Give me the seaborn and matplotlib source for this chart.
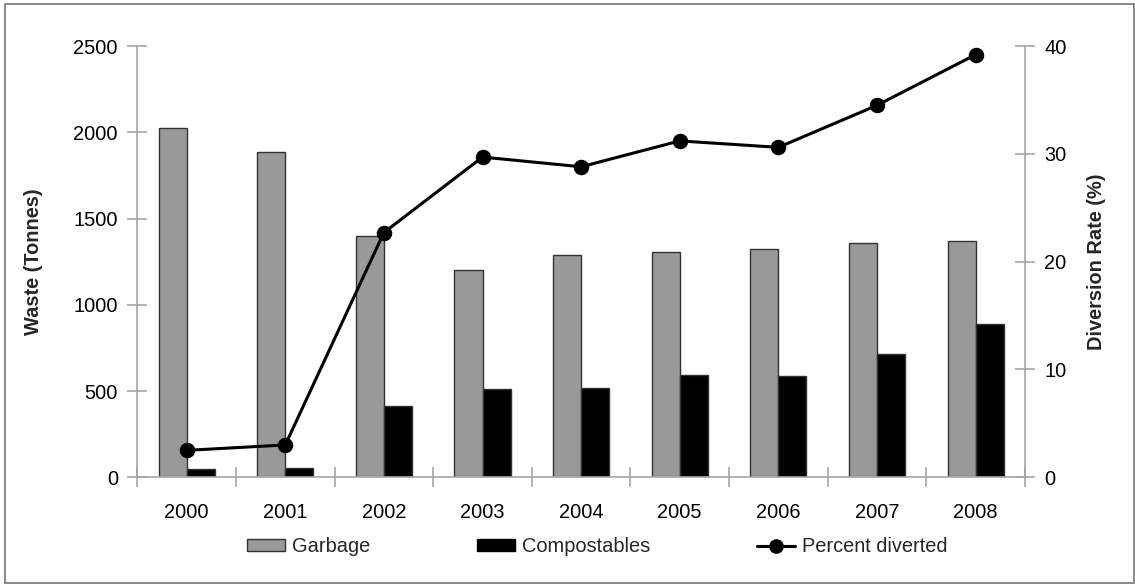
import numpy as np
import pandas as pd
import matplotlib
matplotlib.use("Agg")
import matplotlib.pyplot as plt
from matplotlib.patches import Patch, Rectangle
from matplotlib.lines import Line2D
import seaborn as sns

# Annual waste tonnage and diversion rate
years = ["2000", "2001", "2002", "2003", "2004", "2005", "2006", "2007", "2008"]
garbage = [2027, 1885, 1397, 1202, 1291, 1306, 1324, 1357, 1372]
compostables = [48, 56, 415, 511, 517, 592, 587, 714, 888]
percent_diverted = [2.5, 3.0, 22.7, 29.7, 28.8, 31.2, 30.6, 34.5, 39.2]

left_ticks = [0, 500, 1000, 1500, 2000, 2500]
right_ticks = [0, 10, 20, 30, 40]

sns.set_theme(style="white")
plt.rcParams["font.family"] = ["Liberation Sans", "DejaVu Sans"]

FS = 14.4
AXIS_GREY = "#A6A6A6"
BAR_GREY = "#999999"

waste = pd.DataFrame({
    "Year": years * 2,
    "Tonnes": garbage + compostables,
    "Type": ["Garbage"] * len(years) + ["Compostables"] * len(years),
})
rate = pd.DataFrame({"Year": years, "Rate": percent_diverted})

fig = plt.figure(figsize=(11.35, 5.84), dpi=100)
ax = fig.add_axes([0.121, 0.1827, 0.782, 0.7385])

sns.barplot(
    data=waste, x="Year", y="Tonnes", hue="Type", ax=ax,
    palette={"Garbage": BAR_GREY, "Compostables": "black"},
    width=0.568, gap=0, edgecolor="#333333", linewidth=1.0,
    errorbar=None, legend=False, zorder=2,
)

ax2 = ax.twinx()
sns.pointplot(
    data=rate, x="Year", y="Rate", ax=ax2, color="black",
    markers="o", markersize=9.5, linewidth=2.2, errorbar=None,
)

n = len(years)
ax.set_xlim(-0.5, n - 0.5)
ax2.set_xlim(-0.5, n - 0.5)
ax.set_ylim(0, 2500)
ax2.set_ylim(0, 40)
ax.set_yticks(left_ticks)
ax2.set_yticks(right_ticks)

# Year labels at category centres, tick marks on category boundaries
centres = np.arange(n)
ax.set_xticks(centres, years)
ax.set_xticks(np.arange(n + 1) - 0.5, minor=True)
ax.tick_params(axis="x", which="major", length=0, pad=18.5, labelsize=FS, colors="black")
ax.tick_params(axis="x", which="minor", length=15, width=1.2, direction="inout",
               color=AXIS_GREY, bottom=True)
ax.tick_params(axis="y", length=15, width=1.2, direction="inout", color=AXIS_GREY,
               pad=6.5, labelsize=FS, labelcolor="black", left=True)
ax2.tick_params(axis="y", length=15, width=1.2, direction="inout", color=AXIS_GREY,
                pad=6.5, labelsize=FS, labelcolor="black", right=True)
ax2.tick_params(axis="x", length=0)

for a in (ax, ax2):
    a.set_xlabel("")
    a.grid(False)
    a.spines["top"].set_visible(False)
    for side in ("left", "right", "bottom"):
        a.spines[side].set_color(AXIS_GREY)
        a.spines[side].set_linewidth(1.2)
ax.spines["right"].set_visible(False)
ax2.spines["left"].set_visible(False)
ax2.spines["bottom"].set_visible(False)

ax.set_ylabel("Waste (Tonnes)", fontsize=FS, fontweight="bold")
ax2.set_ylabel("Diversion Rate (%)", fontsize=FS, fontweight="bold")
ax.yaxis.set_label_coords(-0.106, 0.5)
ax2.yaxis.set_label_coords(1.0698, 0.5)

handles = [
    Patch(facecolor=BAR_GREY, edgecolor="#333333", linewidth=1.0, label="Garbage"),
    Patch(facecolor="black", edgecolor="black", label="Compostables"),
    Line2D([], [], color="black", linewidth=2.2, marker="o", markersize=9.5,
           label="Percent diverted"),
]
fig.legend(handles=handles, loc="center", bbox_to_anchor=(0.5264, 0.064), ncol=3,
           frameon=False, fontsize=FS, handlelength=1.9, handleheight=0.5,
           handletextpad=0.35, columnspacing=5.35)

# Chart area border
fig.add_artist(Rectangle((5 / 1135, 1 / 584), 1129 / 1135, 579 / 584,
                         transform=fig.transFigure, fill=False,
                         edgecolor="#8C8C8C", linewidth=1.5))

fig.savefig("out.png", dpi=100)
